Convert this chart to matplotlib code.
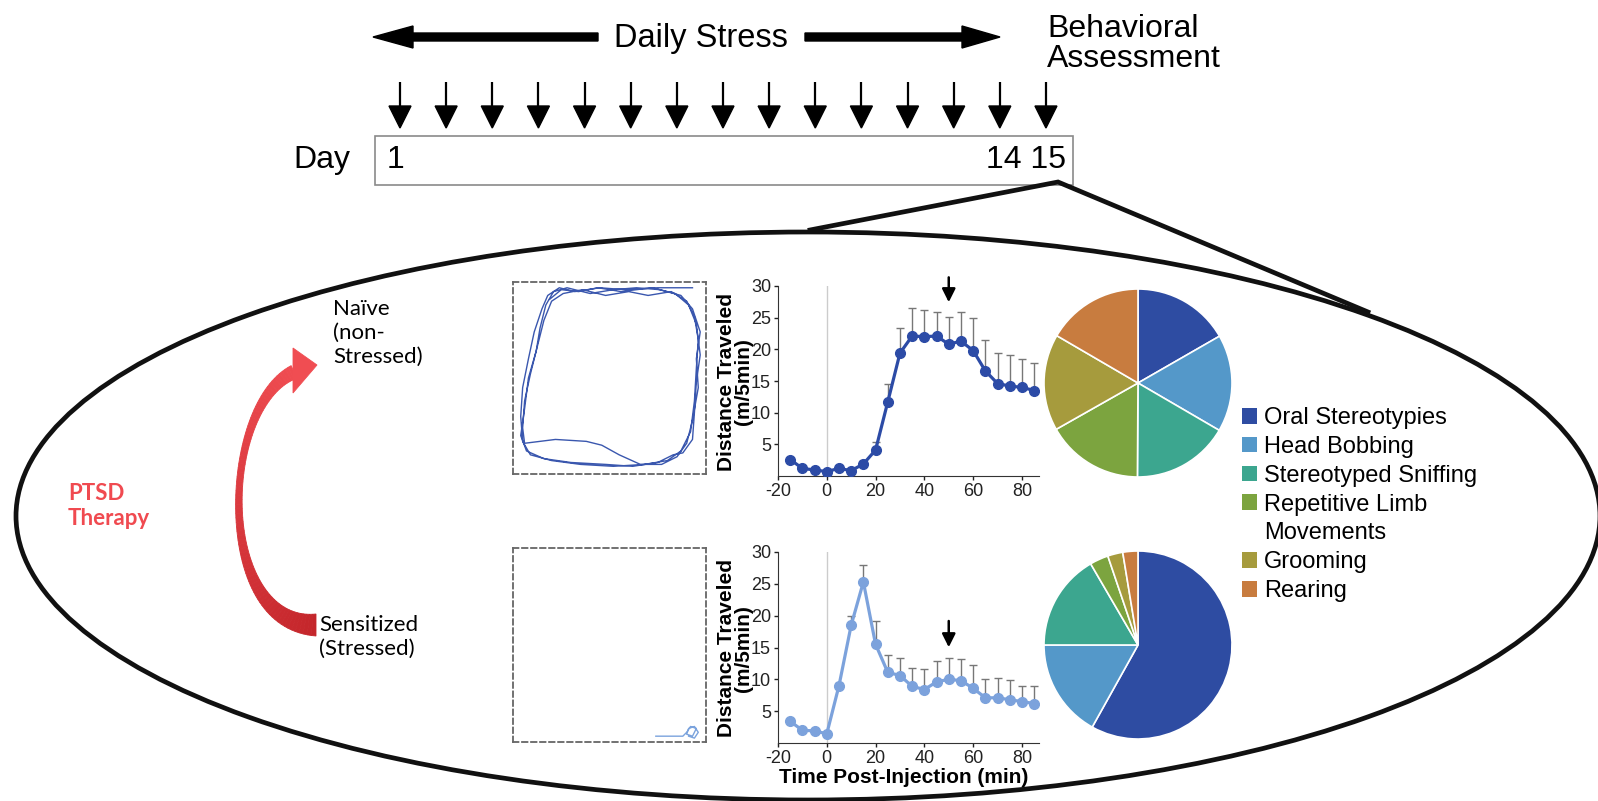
import numpy as np
import matplotlib.pyplot as plt
from matplotlib.patches import Ellipse, Patch, Rectangle

plt.rcParams['font.family'] = ['Liberation Sans', 'DejaVu Sans']
plt.rcParams['axes.unicode_minus'] = False

# ---------------- data ----------------
time_min = [-15, -10, -5, 0, 5, 10, 15, 20, 25, 30, 35, 40, 45, 50, 55, 60, 65, 70, 75, 80, 85]

naive_mean = [2.6, 1.2, 0.95, 0.7, 1.2, 0.85, 1.9, 4.1, 11.7, 19.4, 22.1, 22.0, 22.1, 20.8,
              21.3, 19.8, 16.6, 14.6, 14.2, 14.0, 13.5]
naive_top = [2.9, 1.5, 1.2, 1.0, 1.5, 1.1, 2.3, 5.4, 14.6, 23.3, 26.5, 26.2, 25.9, 25.1,
             25.9, 24.9, 21.5, 19.5, 19.1, 18.4, 17.8]

sens_mean = [3.4, 2.0, 1.9, 1.45, 9.0, 18.5, 25.3, 15.5, 11.1, 10.6, 8.9, 8.4, 9.6, 10.0,
             9.8, 8.6, 7.1, 7.1, 6.8, 6.5, 6.2]
sens_top = [3.7, 2.3, 2.2, 1.8, 9.4, 19.9, 27.9, 19.2, 13.8, 13.4, 11.8, 11.7, 12.9, 13.4,
            13.2, 12.3, 10.0, 10.2, 9.9, 9.0, 9.0]

arrow_time = 50
naive_arrow = (31.8, 27.0)
sens_arrow = (19.6, 14.6)

behaviors = ['Oral Stereotypies', 'Head Bobbing', 'Stereotyped Sniffing',
             'Repetitive Limb', 'Grooming', 'Rearing']
beh_colors = ['#2E4CA2', '#5498C9', '#3CA68F', '#7CA43F', '#A69B3D', '#C87C3F']
naive_pct = [16.7, 16.7, 16.7, 16.7, 16.6, 16.6]
sens_pct = [58.1, 16.9, 16.6, 3.2, 2.6, 2.6]

# open-field tracks (fraction of arena, y up)
naive_track_x = [0.93, 0.75, 0.58, 0.45, 0.32, 0.24, 0.18, 0.15, 0.11, 0.08, 0.05, 0.04, 0.05,
                 0.09, 0.20, 0.35, 0.52, 0.68, 0.80, 0.87, 0.92, 0.94, 0.95, 0.96, 0.94, 0.90,
                 0.82, 0.70, 0.60, 0.48, 0.36, 0.26, 0.20, 0.16, 0.13, 0.09, 0.06, 0.05, 0.06,
                 0.22, 0.38, 0.46, 0.55, 0.66, 0.77, 0.85, 0.90, 0.93, 0.96, 0.95, 0.97, 0.93,
                 0.87, 0.76, 0.64, 0.52, 0.40, 0.28, 0.21, 0.17, 0.14, 0.12, 0.08, 0.06, 0.04,
                 0.07, 0.16, 0.30, 0.48, 0.62, 0.75, 0.83, 0.88, 0.93, 0.94, 0.95, 0.97, 0.95,
                 0.91, 0.84, 0.72, 0.56, 0.44, 0.34, 0.25, 0.19]
naive_track_y = [0.97, 0.97, 0.96, 0.97, 0.95, 0.97, 0.93, 0.86, 0.74, 0.60, 0.45, 0.30, 0.17,
                 0.10, 0.07, 0.05, 0.04, 0.05, 0.07, 0.12, 0.22, 0.38, 0.55, 0.70, 0.82, 0.90,
                 0.95, 0.93, 0.95, 0.93, 0.96, 0.94, 0.90, 0.80, 0.68, 0.52, 0.38, 0.24, 0.16,
                 0.18, 0.17, 0.15, 0.10, 0.05, 0.05, 0.09, 0.16, 0.28, 0.45, 0.60, 0.74, 0.86,
                 0.93, 0.96, 0.97, 0.96, 0.94, 0.97, 0.95, 0.88, 0.76, 0.64, 0.50, 0.34, 0.20,
                 0.12, 0.08, 0.06, 0.05, 0.04, 0.06, 0.10, 0.11, 0.18, 0.32, 0.48, 0.62, 0.78,
                 0.88, 0.94, 0.97, 0.95, 0.97, 0.95, 0.96, 0.91]
sens_track_x = [0.74, 0.88, 0.90, 0.92, 0.95, 0.93, 0.90, 0.91, 0.94, 0.96, 0.94, 0.91]
sens_track_y = [0.03, 0.03, 0.05, 0.08, 0.07, 0.03, 0.04, 0.07, 0.08, 0.05, 0.02, 0.03]

stress_days = list(range(1, 16))

# ---------------- figure ----------------
W, H = 1598, 801
fig = plt.figure(figsize=(W / 100, H / 100), dpi=100)


def px_axes(left, top, right, bottom):
    return fig.add_axes([left / W, 1 - bottom / H, (right - left) / W, (bottom - top) / H])


ax0 = fig.add_axes([0, 0, 1, 1])
ax0.set_xlim(0, W)
ax0.set_ylim(H, 0)
ax0.axis('off')

# timeline
day_x0, day_dx = 400, 46.14
for d in stress_days:
    x = day_x0 + (d - 1) * day_dx
    ax0.plot([x, x], [82, 110], color='black', lw=1.6, solid_capstyle='butt')
    ax0.fill([x - 11, x + 11, x], [106, 106, 128], color='black')

ax0.fill([373, 413, 413, 598, 598, 413, 413], [37, 26, 33, 33, 41, 41, 48], color='black')
ax0.fill([1000, 962, 962, 805, 805, 962, 962], [37, 26, 33, 33, 41, 41, 48], color='black')
ax0.text(701, 38, 'Daily Stress', fontsize=23.5, ha='center', va='center')
ax0.text(1047, 44, 'Behavioral\nAssessment', fontsize=23, ha='left', va='center', linespacing=1.0)
ax0.add_patch(Rectangle((375, 136), 698, 49, fill=False, edgecolor='#8a8a8a', lw=1.2))
ax0.text(293, 160, 'Day', fontsize=23, ha='left', va='center')
ax0.text(387, 160, '1', fontsize=23, ha='left', va='center')
ax0.text(1066, 160, '14 15', fontsize=23, ha='right', va='center')

# zoom lines + ellipse
ax0.plot([810, 1058, 1368], [230, 182, 312], color='#111111', lw=3.4, solid_joinstyle='miter')
ax0.add_patch(Ellipse((808, 516), 1584, 568, fill=False, edgecolor='#111111', lw=3.4))

# curved red arrow (therapy)
P = np.array([[316, 625], [214, 625], [220, 405], [294, 372]], float)
t = np.linspace(0, 1, 80)
B = ((1 - t) ** 3)[:, None] * P[0] + (3 * (1 - t) ** 2 * t)[:, None] * P[1] + \
    (3 * (1 - t) * t ** 2)[:, None] * P[2] + (t ** 3)[:, None] * P[3]
dB = (3 * (1 - t) ** 2)[:, None] * (P[1] - P[0]) + (6 * (1 - t) * t)[:, None] * (P[2] - P[1]) + \
    (3 * t ** 2)[:, None] * (P[3] - P[2])
tang = dB / np.linalg.norm(dB, axis=1)[:, None]
norm = np.column_stack([-tang[:, 1], tang[:, 0]])
wid = 22 - 53.3 * t + 45.3 * t ** 2
edge_a = B + norm * wid[:, None] / 2
edge_b = B - norm * wid[:, None] / 2
c0, c1 = np.array([0.77, 0.15, 0.17]), np.array([0.94, 0.30, 0.32])
for i in range(len(t) - 1):
    col = c0 + (c1 - c0) * t[i]
    qx = [edge_a[i, 0], edge_a[i + 1, 0], edge_b[i + 1, 0], edge_b[i, 0]]
    qy = [edge_a[i, 1], edge_a[i + 1, 1], edge_b[i + 1, 1], edge_b[i, 1]]
    ax0.fill(qx, qy, color=col, lw=0.6, ec=col)
ax0.fill([293, 317, 293], [348, 365, 393], color=c1, lw=0.6, ec=c1)

ax0.text(333, 333, 'Naïve\n(non-\nStressed)', fontsize=16, family=['Lato', 'DejaVu Sans'],
         ha='left', va='center', linespacing=1.25)
ax0.text(319, 637, 'Sensitized\n(Stressed)', fontsize=16, family=['Lato', 'DejaVu Sans'],
         ha='left', va='center', linespacing=1.25)
ax0.text(68, 506, 'PTSD\nTherapy', fontsize=16, family=['Lato', 'DejaVu Sans'], weight='bold',
         color='#F04A50', ha='left', va='center', linespacing=1.25)

# tracks
for (l, tp, r, b), tx, ty, col in [((513, 282, 706, 474), naive_track_x, naive_track_y, '#3A57AE'),
                                   ((513, 548, 706, 742), sens_track_x, sens_track_y, '#7BA3DD')]:
    axt = px_axes(l, tp, r, b)
    axt.set_facecolor('none')
    axt.plot(tx, ty, color=col, lw=1.0)
    axt.set_xlim(0, 1)
    axt.set_ylim(0, 1)
    axt.set_xticks([])
    axt.set_yticks([])
    for s in axt.spines.values():
        s.set_linestyle((0, (3, 2)))
        s.set_color('#666666')
        s.set_linewidth(1.3)

# line charts
for (tp, b), mean, top, col, arr, show_xlabel in [
        ((286, 476), naive_mean, naive_top, '#2C4BA6', naive_arrow, False),
        ((552, 743), sens_mean, sens_top, '#7CA2DC', sens_arrow, True)]:
    ax = px_axes(778, tp, 1039, b)
    ax.set_facecolor('none')
    ax.axvline(0, color='#cccccc', lw=1, zorder=0)
    err = np.array(top) - np.array(mean)
    ax.errorbar(time_min, mean, yerr=[np.zeros_like(err), err], fmt='none',
                ecolor='#777777', elinewidth=1, capsize=3, capthick=1, zorder=1)
    ax.plot(time_min, mean, color=col, lw=2.3, marker='o', markersize=7, zorder=3)
    ax.annotate('', xy=(arrow_time, arr[1]), xytext=(arrow_time, arr[0]),
                arrowprops=dict(arrowstyle='-|>', color='black', lw=1.8, mutation_scale=20),
                annotation_clip=False)
    ax.set_xlim(-20, 87)
    ax.set_ylim(0, 30)
    ax.set_yticks([5, 10, 15, 20, 25, 30])
    ax.set_xticks([-20, 0, 20, 40, 60, 80])
    ax.tick_params(labelsize=13, length=3, width=1, pad=2, colors='#222222')
    for s in ['top', 'right']:
        ax.spines[s].set_visible(False)
    for s in ['left', 'bottom']:
        ax.spines[s].set_color('#333333')
    ax.text(-0.165, 0.497, 'Distance Traveled\n(m/5min)', transform=ax.transAxes, rotation=90,
            fontsize=15, weight='bold', ha='center', va='center', linespacing=0.88)
    if show_xlabel:
        ax.text(0.483, -0.18, 'Time Post-Injection (min)', transform=ax.transAxes,
                fontsize=15, weight='bold', ha='center', va='center')

# pies
for cy, pct in [(383, naive_pct), (645, sens_pct)]:
    axp = px_axes(1044, cy - 94, 1232, cy + 94)
    axp.pie(pct, colors=beh_colors, startangle=90, counterclock=False, radius=1,
            wedgeprops=dict(edgecolor='white', linewidth=1.2))
    axp.set_xlim(-1, 1)
    axp.set_ylim(-1, 1)
    axp.set_aspect('equal')

# legend
handles = [Patch(facecolor=c, edgecolor='none') for c in beh_colors]
labels = list(behaviors)
handles.insert(4, Patch(facecolor='none', edgecolor='none'))
labels.insert(4, 'Movements')
ax0.legend(handles, labels, loc='upper left', bbox_to_anchor=(1242 / W, 1 - 407 / H),
           bbox_transform=fig.transFigure, frameon=False, fontsize=17, handlelength=0.64,
           handleheight=0.64, handletextpad=0.3, labelspacing=0.29, borderpad=0,
           borderaxespad=0)

fig.savefig('out.png', dpi=100)
